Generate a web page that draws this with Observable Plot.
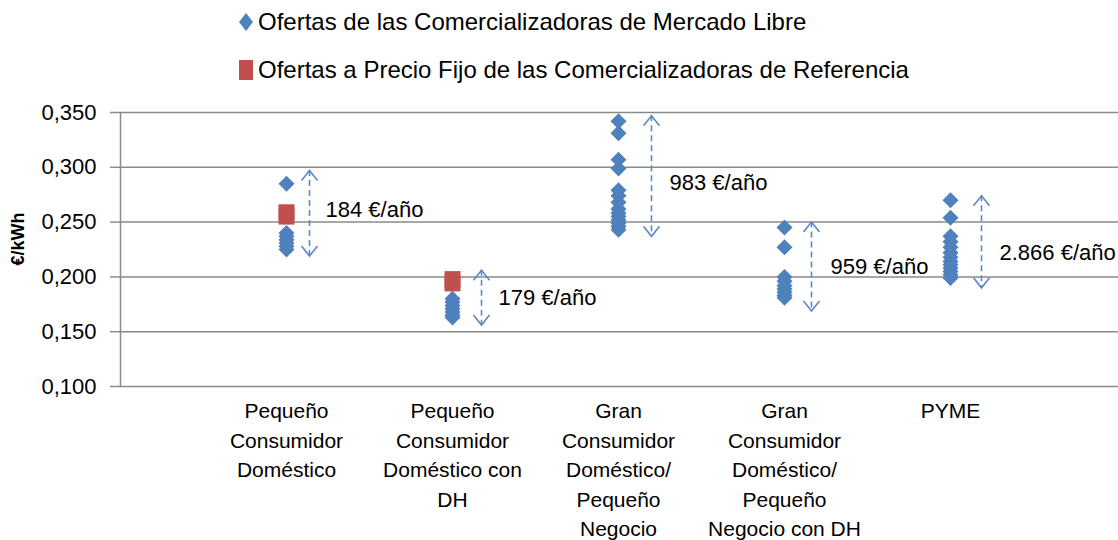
<!DOCTYPE html>
<html><head><meta charset="utf-8">
<script src="https://cdn.jsdelivr.net/npm/d3@7"></script>
<script src="https://cdn.jsdelivr.net/npm/@observablehq/plot@0.6"></script>
<style>
body{margin:0;background:#fff;font-family:"Liberation Sans",Arial,sans-serif;}
#legend{position:relative;height:92px;width:1118px;}
.row{position:absolute;left:236px;display:flex;align-items:center;font-size:24px;color:#000;height:30px;white-space:nowrap;}
.row svg{margin-right:2px;}
</style></head><body>
<div id="legend">
 <div class="row" style="top:7px"><svg width="20" height="24"><path d="M10,3L17,12L10,21L3,12Z" fill="#4f81bd"/></svg><span>Ofertas de las Comercializadoras de Mercado Libre</span></div>
 <div class="row" style="top:55px"><svg width="20" height="24"><rect x="3" y="2" width="14" height="20" fill="#c0504d"/></svg><span>Ofertas a Precio Fijo de las Comercializadoras de Referencia</span></div>
</div>
<div id="chart"></div>
<script>
// Categories and their axis labels
const categories = ["Pequeño Consumidor Doméstico", "Pequeño Consumidor Doméstico con DH", "Gran Consumidor Doméstico/Pequeño Negocio", "Gran Consumidor Doméstico/Pequeño Negocio con DH", "PYME"];
const categoryLabels = ["Pequeño\nConsumidor\nDoméstico", "Pequeño\nConsumidor\nDoméstico con\nDH", "Gran\nConsumidor\nDoméstico/\nPequeño\nNegocio", "Gran\nConsumidor\nDoméstico/\nPequeño\nNegocio con DH", "PYME"];

// Ofertas de las Comercializadoras de Mercado Libre (€/kWh)
const libreDomestico   = [0.285, 0.240, 0.237, 0.234, 0.231, 0.228, 0.225];
const libreDomesticoDH = [0.180, 0.177, 0.174, 0.171, 0.168, 0.165, 0.163];
const libreGran        = [0.342, 0.331, 0.307, 0.299, 0.279, 0.274, 0.268, 0.262, 0.258, 0.255, 0.252, 0.249, 0.246, 0.243];
const libreGranDH      = [0.245, 0.227, 0.200, 0.196, 0.192, 0.189, 0.186, 0.183, 0.181];
const librePyme        = [0.270, 0.254, 0.237, 0.232, 0.227, 0.222, 0.218, 0.214, 0.211, 0.208, 0.205, 0.202, 0.199];

// Ofertas a Precio Fijo de las Comercializadoras de Referencia (€/kWh)
const refDomestico   = [0.259, 0.255];
const refDomesticoDH = [0.198, 0.194];

// Range annotations
const rangeTop    = [0.297, 0.206, 0.347, 0.250, 0.274];
const rangeBottom = [0.219, 0.156, 0.237, 0.169, 0.190];
const rangeLabelY = [0.261, 0.181, 0.286, 0.209, 0.222];
const rangeLabels = ["184 €/año", "179 €/año", "983 €/año", "959 €/año", "2.866 €/año"];

// y ticks
const yTicks = [0.100, 0.150, 0.200, 0.250, 0.300, 0.350];

// layout (pixel offsets of annotations from the category centre)
const arrowDx = [23, 29, 33, 27, 31];
const textDx  = [39, 46, 51, 46, 49];

const libreSeries = [libreDomestico, libreDomesticoDH, libreGran, libreGranDH, librePyme];
const refSeries = [refDomestico, refDomesticoDH];
const libre = libreSeries.flatMap((vals, i) => vals.map(v => ({cat: categories[i], value: v})));
const ref = refSeries.flatMap((vals, i) => vals.map(v => ({cat: categories[i], value: v})));
const ranges = categories.map((c, i) => ({cat: c, top: rangeTop[i], bottom: rangeBottom[i], ly: rangeLabelY[i], label: rangeLabels[i]}));

const padStart = "_start", padEnd = "_end";
const labelOf = new Map(categories.map((c, i) => [c, categoryLabels[i]]));

const blue = "#4f81bd", red = "#c0504d", arrowColor = "#5a8ac6", grid = "#8a8a8a";
const chevUp = {draw(ctx){ctx.moveTo(-8, 10); ctx.lineTo(0, 0); ctx.lineTo(8, 10);}};
const chevDown = {draw(ctx){ctx.moveTo(-8, -10); ctx.lineTo(0, 0); ctx.lineTo(8, -10);}};

const annMarks = ranges.flatMap((d, i) => [
  Plot.ruleX([d], {x: "cat", y1: "top", y2: "bottom", dx: arrowDx[i], stroke: arrowColor, strokeWidth: 1.6, strokeDasharray: "6,4"}),
  Plot.dot([d], {x: "cat", y: "top", dx: arrowDx[i], symbol: chevUp, fill: "none", stroke: arrowColor, strokeWidth: 1.6}),
  Plot.dot([d], {x: "cat", y: "bottom", dx: arrowDx[i], symbol: chevDown, fill: "none", stroke: arrowColor, strokeWidth: 1.6}),
  Plot.text([d], {x: "cat", y: "ly", text: "label", dx: textDx[i], textAnchor: "start", fontSize: 22, fill: "#000"})
]);

const chart = Plot.plot({
  width: 1118, height: 448,
  marginLeft: 118, marginRight: 0, marginTop: 20, marginBottom: 154,
  style: {fontFamily: '"Liberation Sans", Arial, sans-serif', fontSize: "21px", color: "#000", background: "#fff"},
  x: {type: "point", domain: [padStart, ...categories, padEnd], padding: 0, axis: null, label: null},
  y: {domain: [0.1, 0.35], axis: null, label: null},
  marks: [
    Plot.ruleY(yTicks, {stroke: grid, strokeWidth: 1.5}),
    Plot.ruleX([padStart], {y1: 0.1, y2: 0.35, stroke: grid, strokeWidth: 1.5}),
    Plot.axisY(yTicks, {label: null, tickSize: 8, tickPadding: 14, stroke: grid, strokeWidth: 1.5, tickFormat: d => d3.format(".3f")(d).replace(".", ","), fontSize: 22, fill: "#000"}),
    Plot.axisX(categories, {label: null, tickSize: 0, tickPadding: 11, tickFormat: d => labelOf.get(d), lineHeight: 1.4, fontSize: 21, fill: "#000", lineAnchor: "top"}),
    Plot.text(["€/kWh"], {frameAnchor: "left", dx: -100, dy: 16, rotate: -90, fontWeight: "bold", fontSize: 18, fill: "#000"}),
    Plot.dot(libre, {x: "cat", y: "value", symbol: "diamond2", r: 7.2, fill: blue}),
    Plot.dot(ref, {x: "cat", y: "value", symbol: "square", r: 9, fill: red}),
    ...annMarks
  ]
});
document.getElementById("chart").appendChild(chart);
</script>
</body></html>
